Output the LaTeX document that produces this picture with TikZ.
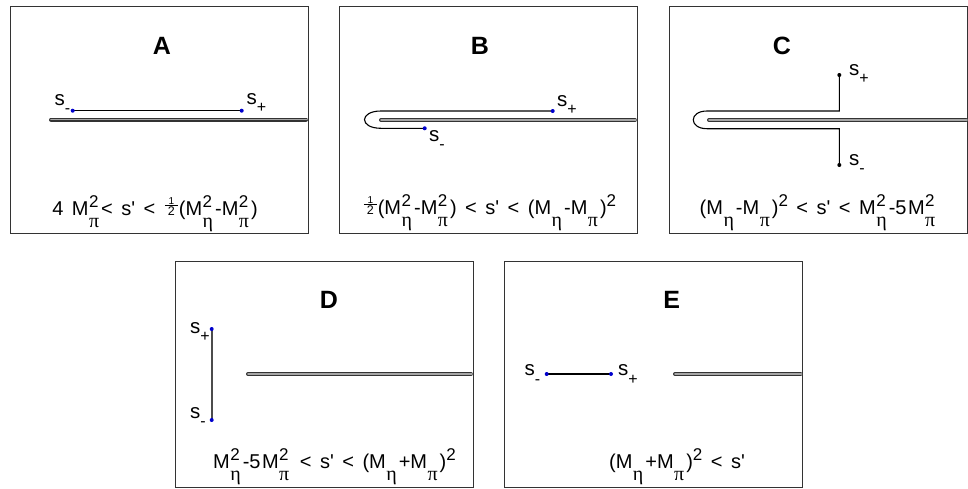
\documentclass[tikz,border=0pt]{standalone}
\usepackage{fontspec}
\setmainfont{Liberation Sans}
\newfontfamily\grk{Liberation Serif}
\newcommand\scr[1]{\fontsize{17}{17}\selectfont #1}
\newcommand\gscr[1]{\fontsize{20}{20}\selectfont\grk #1}
\newcommand\subsup[2]{{\setbox0=\hbox{\scr{\raisebox{7.5pt}{#2}}}\setbox2=\hbox{\gscr{\raisebox{-12.5pt}{#1}}}\ifdim\wd0>\wd2 \rlap{\box2}\box0 \else\rlap{\box0}\box2 \fi}\kern2pt}
\newcommand\Mss[2]{M\kern0.5pt\subsup{#1}{#2}}
\newcommand\up[1]{\raisebox{7.5pt}{\scr{#1}}}
\newcommand\half{\leavevmode\kern1pt\rlap{\raisebox{10.8pt}{\makebox[13pt]{\fontsize{10}{10}\selectfont 1}}}\rlap{\rule[9pt]{13pt}{0.6pt}}\makebox[13pt]{\fontsize{12.5}{12.5}\selectfont 2}\kern1pt}
\newcommand\slab[1]{s\raisebox{-8.5pt}{\fontsize{16}{16}\selectfont #1}}
\newcommand\pr{s\textquotesingle}
\newcommand\gap{\hspace{8.5pt}}
\begin{document}
\begin{tikzpicture}[x=1pt,y=-1pt,
  panel/.style={draw=black!80, line width=0.9pt},
  cutouter/.style={line width=4pt, draw=black!80, line cap=round},
  cutinner/.style={line width=1.6pt, draw=black!35, line cap=round},
  contour/.style={line width=1.1pt, draw=black},
  vline/.style={line width=2pt, draw=black!70},
  bdot/.style={circle, fill=blue!80!black, inner sep=0pt, minimum size=4pt},
  kdot/.style={circle, fill=black, inner sep=0pt, minimum size=4pt},
  title/.style={font=\fontsize{25}{25}\selectfont\bfseries, anchor=base, inner sep=0pt},
  formula/.style={font=\fontsize{20}{22}\selectfont, anchor=base, inner sep=0pt},
  slabel/.style={font=\fontsize{20.5}{22}\selectfont, anchor=base west, inner sep=0pt}]
\useasboundingbox (0,0) rectangle (968,488);
% ---------------- A
\draw[panel] (10,6) rectangle (308,233);
\node[title] (tA) at (162,54) {A};
\coordinate (cA0) at (51,119.5);
\coordinate (cA1) at (306,119.5);
\coordinate (cA2) at (307,119.5);
\draw[cutouter] (cA0) -- (cA1);
\draw[cutinner] (cA0) -- (cA2);
\coordinate (smA) at (72.7,110.7);
\coordinate (spA) at (241.7,110.7);
\draw[contour] (smA) -- (spA);
\node[bdot] (dmA) at (smA) {};
\node[bdot] (dpA) at (spA) {};
\node[slabel] (lmA) at (54.5,105) {\slab{-}};
\node[slabel] (lpA) at (246.5,104) {\slab{+}};
\node[formula] (fA) at (155,215) {4\gap\Mss{π}{2}<\gap\pr\gap<\gap\half(\Mss{η}{2}-\Mss{π}{2})};
% ---------------- B
\draw[panel] (339,6) rectangle (637,233);
\node[title] (tB) at (480,54) {B};
\coordinate (cB0) at (381,120);
\coordinate (cB1) at (635,120);
\coordinate (cB2) at (636,120);
\draw[cutouter] (cB0) -- (cB1);
\draw[cutinner] (cB0) -- (cB2);
\coordinate (spB) at (552.7,111);
\coordinate (smB) at (424.7,128.3);
\coordinate (uB) at (381,111);
\coordinate (lB) at (381,128.3);
\draw[contour] (spB) -- (uB) .. controls (359,111) and (359,128.3) .. (lB) -- (smB);
\node[bdot] (dpB) at (spB) {};
\node[bdot] (dmB) at (smB) {};
\node[slabel] (lpB) at (557,106) {\slab{+}};
\node[slabel] (lmB) at (429,141) {\slab{-}};
\node[formula] (fB) at (489.5,214) {\half(\Mss{η}{2}-\Mss{π}{2})\gap<\gap\pr\gap<\gap(\Mss{η}{}-\Mss{π}{})\up{2}};
% ---------------- C
\draw[panel] (669,6) rectangle (967,233);
\node[title] (tC) at (782,54) {C};
\coordinate (cC0) at (709,120);
\coordinate (cC1) at (966,120);
\coordinate (cC2) at (967,120);
\draw[cutouter] (cC0) -- (cC1);
\draw[cutinner] (cC0) -- (cC2);
\coordinate (spC) at (839.3,75);
\coordinate (smC) at (839.3,165);
\coordinate (uC1) at (839.3,111);
\coordinate (uC2) at (707,111);
\coordinate (lC2) at (707,128.7);
\coordinate (lC1) at (839.3,128.7);
\draw[contour] (spC) -- (uC1) -- (uC2) .. controls (688.7,111) and (688.7,128.7) .. (lC2) -- (lC1) -- (smC);
\node[kdot] (dpC) at (spC) {};
\node[kdot] (dmC) at (smC) {};
\node[slabel] (lpC) at (849,75) {\slab{+}};
\node[slabel] (lmC) at (849,165) {\slab{-}};
\node[formula] (fC) at (818.5,214) {(\Mss{η}{}-\Mss{π}{})\up{2}\gap<\gap\pr\gap<\gap\Mss{η}{2}-5\kern1.5pt\Mss{π}{2}};
% ---------------- D
\draw[panel] (175,261) rectangle (473,487);
\node[title] (tD) at (329,308) {D};
\coordinate (cD0) at (248,374);
\coordinate (cD1) at (471,374);
\coordinate (cD2) at (472,374);
\draw[cutouter] (cD0) -- (cD1);
\draw[cutinner] (cD0) -- (cD2);
\coordinate (spD) at (211.7,329);
\coordinate (smD) at (211.7,420);
\draw[vline] (spD) -- (smD);
\node[bdot] (dpD) at (spD) {};
\node[bdot] (dmD) at (smD) {};
\node[slabel] (lpD) at (190,333) {\slab{+}};
\node[slabel] (lmD) at (190,418) {\slab{-}};
\node[formula] (fD) at (334.5,468) {\Mss{η}{2}-5\kern1.5pt\Mss{π}{2}\gap<\gap\pr\gap<\gap(\Mss{η}{}+\Mss{π}{})\up{2}};
% ---------------- E
\draw[panel] (504,261) rectangle (802.5,487);
\node[title] (tE) at (671.7,308) {E};
\coordinate (cE0) at (675,374);
\coordinate (cE1) at (800.5,374);
\coordinate (cE2) at (801.5,374);
\draw[cutouter] (cE0) -- (cE1);
\draw[cutinner] (cE0) -- (cE2);
\coordinate (smE) at (546.7,374);
\coordinate (spE) at (611,374);
\draw[contour] (smE) -- (spE);
\node[bdot] (dmE) at (smE) {};
\node[bdot] (dpE) at (spE) {};
\node[slabel] (lmE) at (524.5,375.5) {\slab{-}};
\node[slabel] (lpE) at (618,375.5) {\slab{+}};
\node[formula] (fE) at (677,468) {(\Mss{η}{}+\Mss{π}{})\up{2}\gap<\gap\pr};
\end{tikzpicture}
\end{document}
